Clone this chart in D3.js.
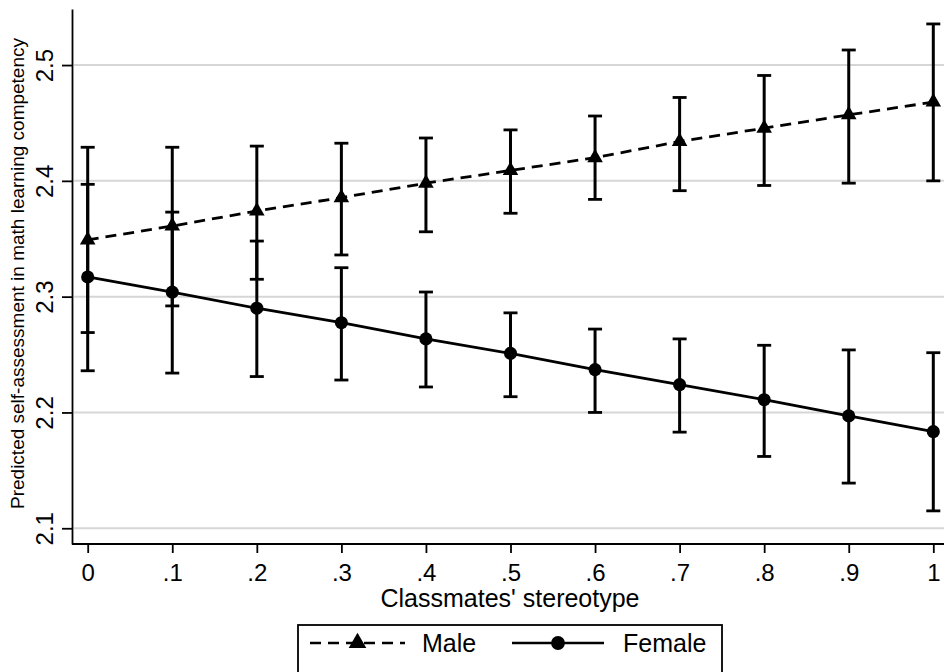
<!DOCTYPE html>
<html>
<head>
<meta charset="utf-8">
<script src="https://cdn.jsdelivr.net/npm/d3@7"></script>
<style>
  body { margin: 0; background: #fff; }
  text { font-family: "Liberation Sans", Arial, Helvetica, sans-serif; fill: #000; }
</style>
</head>
<body>
<div id="chart"></div>
<script>
// Classmates' stereotype (x) and predicted margins with 95% CIs
const stereotype = [0, 0.1, 0.2, 0.3, 0.4, 0.5, 0.6, 0.7, 0.8, 0.9, 1];
const maleFit = [2.349, 2.361, 2.374, 2.3855, 2.398, 2.409, 2.420, 2.434, 2.4455, 2.457, 2.468];
const maleLo = [2.269, 2.292, 2.315, 2.336, 2.356, 2.372, 2.384, 2.3915, 2.396, 2.398, 2.400];
const maleHi = [2.429, 2.429, 2.430, 2.4325, 2.437, 2.444, 2.456, 2.472, 2.491, 2.513, 2.5355];
const femaleFit = [2.317, 2.304, 2.290, 2.2775, 2.2635, 2.251, 2.237, 2.224, 2.211, 2.197, 2.1834];
const femaleLo = [2.236, 2.234, 2.231, 2.228, 2.222, 2.2136, 2.200, 2.183, 2.162, 2.139, 2.115];
const femaleHi = [2.397, 2.373, 2.348, 2.325, 2.304, 2.286, 2.272, 2.2635, 2.258, 2.254, 2.2516];

const xTicks = [0, 0.1, 0.2, 0.3, 0.4, 0.5, 0.6, 0.7, 0.8, 0.9, 1];
const xTickLabels = ['0', '.1', '.2', '.3', '.4', '.5', '.6', '.7', '.8', '.9', '1'];
const yTicks = [2.1, 2.2, 2.3, 2.4, 2.5];
const seriesNames = ['Male', 'Female'];

const width = 944, height = 672;
const svg = d3.select('#chart').append('svg')
  .attr('width', width)
  .attr('height', height);

// Scales (axis region extends slightly beyond the data range)
const x = d3.scaleLinear().domain([0, 1]).range([87.7, 933.3]);
const y = d3.scaleLinear().domain([2.0864, 2.5484]).range([544, 9]);
const axisLeftX = 72;

// Gridlines
svg.append('g')
  .selectAll('line')
  .data(yTicks)
  .enter().append('line')
    .attr('x1', axisLeftX + 2)
    .attr('x2', width)
    .attr('y1', d => y(d))
    .attr('y2', d => y(d))
    .attr('stroke', '#d6d6d6')
    .attr('stroke-width', 2);

// Y axis
const yAxis = svg.append('g')
  .attr('transform', `translate(${axisLeftX},0)`)
  .call(d3.axisLeft(y).tickValues(yTicks).tickSize(10).tickSizeOuter(0).tickFormat(d3.format('.1f')));
yAxis.select('.domain').attr('stroke', '#000').attr('stroke-width', 1.8);
yAxis.selectAll('.tick line').attr('stroke', '#000').attr('stroke-width', 1.8);
yAxis.selectAll('.tick text')
  .attr('x', 0)
  .attr('y', 0)
  .attr('dy', 0)
  .attr('transform', 'translate(-19,0) rotate(-90)')
  .attr('text-anchor', 'middle')
  .style('font-size', '24px');

// X axis
const xAxis = svg.append('g')
  .attr('transform', `translate(0,${y.range()[0]})`)
  .call(d3.axisBottom(x).tickValues(xTicks).tickSize(9).tickSizeOuter(0)
    .tickFormat((d, i) => xTickLabels[i]));
xAxis.select('.domain').attr('d', `M${axisLeftX},0H${width}`).attr('stroke', '#000').attr('stroke-width', 1.8);
xAxis.selectAll('.tick line').attr('stroke', '#000').attr('stroke-width', 1.8);
xAxis.selectAll('.tick text')
  .attr('y', 37)
  .attr('dy', 0)
  .style('font-size', '24px');

// Axis titles
svg.append('text')
  .attr('transform', `translate(24,${(y.range()[0] + y.range()[1]) / 2 - 3}) rotate(-90)`)
  .attr('text-anchor', 'middle')
  .style('font-size', '19px')
  .text('Predicted self-assessment in math learning competency');

svg.append('text')
  .attr('x', 510)
  .attr('y', 607)
  .attr('text-anchor', 'middle')
  .style('font-size', '25px')
  .text("Classmates' stereotype");

// Series
const series = [
  { name: seriesNames[0], fit: maleFit, lo: maleLo, hi: maleHi, dash: '11,7', symbol: d3.symbolTriangle, size: 105 },
  { name: seriesNames[1], fit: femaleFit, lo: femaleLo, hi: femaleHi, dash: null, symbol: d3.symbolCircle, size: 135 }
];

const capHalf = 7;
series.forEach(s => {
  const pts = stereotype.map((v, i) => ({ x: v, fit: s.fit[i], lo: s.lo[i], hi: s.hi[i] }));
  const g = svg.append('g');

  // CI caps
  const bars = g.selectAll('.ci').data(pts).enter().append('g').attr('class', 'ci');
  bars.append('line')
    .attr('x1', d => x(d.x)).attr('x2', d => x(d.x))
    .attr('y1', d => y(d.lo)).attr('y2', d => y(d.hi))
    .attr('stroke', '#000').attr('stroke-width', 3);
  bars.append('line')
    .attr('x1', d => x(d.x) - capHalf).attr('x2', d => x(d.x) + capHalf)
    .attr('y1', d => y(d.lo)).attr('y2', d => y(d.lo))
    .attr('stroke', '#000').attr('stroke-width', 2.8);
  bars.append('line')
    .attr('x1', d => x(d.x) - capHalf).attr('x2', d => x(d.x) + capHalf)
    .attr('y1', d => y(d.hi)).attr('y2', d => y(d.hi))
    .attr('stroke', '#000').attr('stroke-width', 2.8);

  // Fit line
  g.append('path')
    .datum(pts)
    .attr('fill', 'none')
    .attr('stroke', '#000')
    .attr('stroke-width', 2.8)
    .attr('stroke-dasharray', s.dash)
    .attr('d', d3.line().x(d => x(d.x)).y(d => y(d.fit)));

  // Markers
  g.selectAll('.marker').data(pts).enter().append('path')
    .attr('class', 'marker')
    .attr('transform', d => `translate(${x(d.x)},${y(d.fit)})`)
    .attr('d', d3.symbol().type(s.symbol).size(s.size))
    .attr('fill', '#000');
});

// Legend
const legend = svg.append('g');
legend.append('rect')
  .attr('x', 298).attr('y', 625)
  .attr('width', 424).attr('height', 60)
  .attr('fill', '#fff')
  .attr('stroke', '#000')
  .attr('stroke-width', 1.8);

const legendItems = [
  { name: seriesNames[0], x0: 310, x1: 405, dash: '11,7', symbol: d3.symbolTriangle, size: 135, tx: 422 },
  { name: seriesNames[1], x0: 512, x1: 604, dash: null, symbol: d3.symbolCircle, size: 150, tx: 623 }
];
legendItems.forEach(it => {
  legend.append('line')
    .attr('x1', it.x0).attr('x2', it.x1)
    .attr('y1', 643).attr('y2', 643)
    .attr('stroke', '#000').attr('stroke-width', 2.6)
    .attr('stroke-dasharray', it.dash);
  legend.append('path')
    .attr('transform', `translate(${(it.x0 + it.x1) / 2},643)`)
    .attr('d', d3.symbol().type(it.symbol).size(it.size))
    .attr('fill', '#000');
  legend.append('text')
    .attr('x', it.tx).attr('y', 652)
    .style('font-size', '25px')
    .text(it.name);
});
</script>
</body>
</html>
